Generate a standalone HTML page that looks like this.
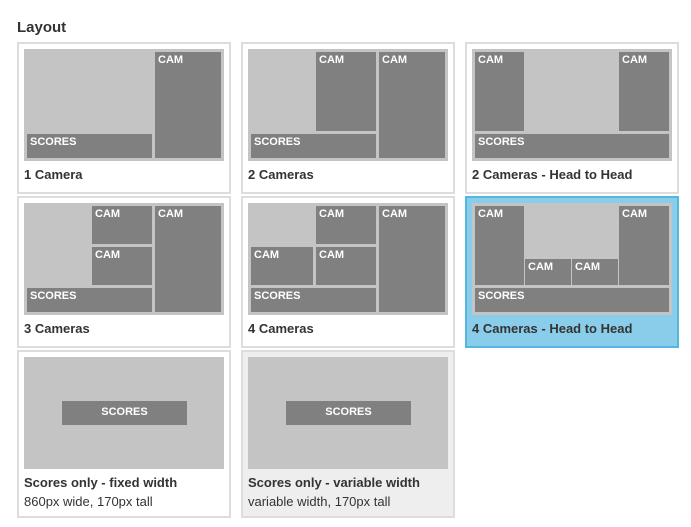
<!DOCTYPE html>
<html><head><style>
body{margin:0;width:691px;height:527px;background:#fff;font-family:"Liberation Sans",sans-serif;position:relative;overflow:hidden}
.t{position:absolute;left:17px;top:19px;font-size:15px;font-weight:bold;color:#333}
.c{position:absolute;width:214px;height:152px;box-sizing:border-box;border:2px solid #ddd;background:#fff}
.c.sel{background:#89cdea;border-color:#53b8e0}
.c.g{background:#eee}
.p{position:absolute;left:5px;top:5px;width:200px;height:112px;background:#c4c4c4}
.b{position:absolute;background:#808080;color:#fff;font-size:11px;font-weight:bold;padding:2px 0 0 3px;box-sizing:border-box;line-height:12px}
.l{position:absolute;left:5px;top:123px;font-size:13px;font-weight:bold;color:#333}
.s{position:absolute;left:5px;top:142px;font-size:13px;color:#333}
</style></head><body>
<div class="t">Layout</div>

<div class="c" style="left:17px;top:42px"><div class="p">
<div class="b" style="left:3px;top:85px;width:125px;height:24px">SCORES</div>
<div class="b" style="left:131px;top:3px;width:66px;height:106px">CAM</div>
</div><div class="l">1 Camera</div></div>

<div class="c" style="left:241px;top:42px"><div class="p">
<div class="b" style="left:68px;top:3px;width:60px;height:79px">CAM</div>
<div class="b" style="left:131px;top:3px;width:66px;height:106px">CAM</div>
<div class="b" style="left:3px;top:85px;width:125px;height:24px">SCORES</div>
</div><div class="l">2 Cameras</div></div>

<div class="c" style="left:465px;top:42px"><div class="p">
<div class="b" style="left:3px;top:3px;width:49px;height:79px">CAM</div>
<div class="b" style="left:147px;top:3px;width:50px;height:79px">CAM</div>
<div class="b" style="left:3px;top:85px;width:194px;height:24px">SCORES</div>
</div><div class="l">2 Cameras - Head to Head</div></div>

<div class="c" style="left:17px;top:196px"><div class="p">
<div class="b" style="left:68px;top:3px;width:60px;height:38px">CAM</div>
<div class="b" style="left:68px;top:44px;width:60px;height:38px">CAM</div>
<div class="b" style="left:131px;top:3px;width:66px;height:106px">CAM</div>
<div class="b" style="left:3px;top:85px;width:125px;height:24px">SCORES</div>
</div><div class="l">3 Cameras</div></div>

<div class="c" style="left:241px;top:196px"><div class="p">
<div class="b" style="left:68px;top:3px;width:60px;height:38px">CAM</div>
<div class="b" style="left:3px;top:44px;width:62px;height:38px">CAM</div>
<div class="b" style="left:68px;top:44px;width:60px;height:38px">CAM</div>
<div class="b" style="left:131px;top:3px;width:66px;height:106px">CAM</div>
<div class="b" style="left:3px;top:85px;width:125px;height:24px">SCORES</div>
</div><div class="l">4 Cameras</div></div>

<div class="c sel" style="left:465px;top:196px"><div class="p">
<div class="b" style="left:3px;top:3px;width:49px;height:79px">CAM</div>
<div class="b" style="left:53px;top:56px;width:46px;height:26px">CAM</div>
<div class="b" style="left:100px;top:56px;width:46px;height:26px">CAM</div>
<div class="b" style="left:147px;top:3px;width:50px;height:79px">CAM</div>
<div class="b" style="left:3px;top:85px;width:194px;height:24px">SCORES</div>
</div><div class="l">4 Cameras - Head to Head</div></div>

<div class="c" style="left:17px;top:350px;height:168px"><div class="p">
<div class="b" style="left:38px;top:44px;width:125px;height:24px;text-align:center;padding:5px 0 0 0">SCORES</div>
</div><div class="l">Scores only - fixed width</div><div class="s">860px wide, 170px tall</div></div>

<div class="c g" style="left:241px;top:350px;height:168px"><div class="p">
<div class="b" style="left:38px;top:44px;width:125px;height:24px;text-align:center;padding:5px 0 0 0">SCORES</div>
</div><div class="l">Scores only - variable width</div><div class="s">variable width, 170px tall</div></div>
</body></html>
